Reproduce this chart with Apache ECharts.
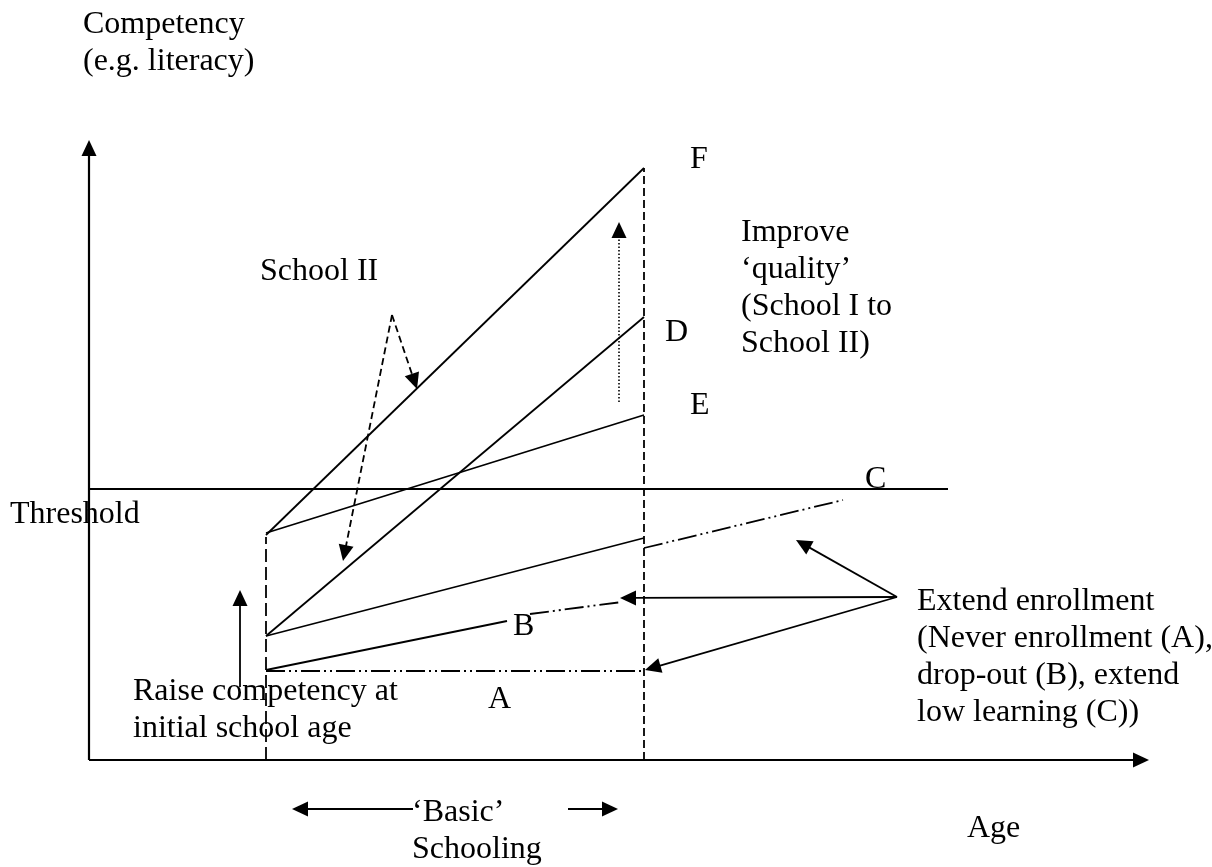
<!DOCTYPE html>
<html>
<head>
<meta charset="utf-8">
<script src="https://cdn.jsdelivr.net/npm/echarts@6/dist/echarts.min.js"></script>
<style>
  html, body { margin: 0; padding: 0; background: #ffffff; }
  #chart { width: 1212px; height: 867px; }
</style>
</head>
<body>
<div id="chart"></div>
<script>
// Diagram units: x = age, y = competency (arbitrary units)
// Each segment: [x1, y1, x2, y2]
const axisX = [[0, 0, 106, 0]];
const axisY = [[0, 0, 0, 62]];
const thresholdLine = [[0, 27.1, 85.9, 27.1]];
const pathF = [[17.7, 22.5, 55.5, 59.2]];      // School II
const pathE = [[17.7, 22.7, 55.5, 34.5]];
const pathD = [[17.7, 12.4, 55.5, 44.3]];
const pathC = [[17.7, 12.4, 55.5, 22.2]];
const pathB = [[17.7, 9.0, 41.8, 13.9]];
const extC = [[55.5, 21.2, 75.4, 26.0]];
const extB = [[44.1, 14.6, 53.3, 15.8]];
const pathA = [[17.7, 8.9, 55.5, 8.9]];
const schoolStart = [[17.7, 0, 17.7, 22.3]];
const schoolEnd = [[55.5, 0, 55.5, 59.2]];
const raiseArrow = [[15.1, 7.3, 15.1, 17.0]];
const qualityArrow = [[53.0, 35.8, 53.0, 53.8]];
const schoolIIArrows = [[30.3, 44.5, 32.8, 37.1], [30.3, 44.5, 25.4, 19.9]];
const extendArrows = [[80.8, 16.3, 70.7, 22.0], [80.8, 16.3, 53.1, 16.2], [80.8, 16.3, 55.6, 9.0]];
const basicArrows = [[32.4, -4.9, 20.3, -4.9], [47.9, -4.9, 52.9, -4.9]];

// Annotation texts: [text, x of left edge, y of first baseline]
const annotTexts = [
  'Competency\n(e.g. literacy)',
  'School II',
  'F',
  'Improve\n\u2018quality\u2019\n(School I to\nSchool II)',
  'D',
  'E',
  'C',
  'Threshold',
  'B',
  'A',
  'Raise competency at\ninitial school age',
  'Extend enrollment\n(Never enrollment (A),\ndrop-out (B), extend\nlow learning (C))',
  '\u2018Basic\u2019\nSchooling',
  'Age'
];
const annotX = [-0.6, 17.1, 60.1, 65.2, 57.6, 60.1, 77.6, -7.9, 42.4, 39.9, 4.4, 82.8, 32.3, 87.8];
const annotY = [72.5, 47.8, 59.0, 51.7, 41.7, 34.4, 27.0, 23.5, 12.3, 5.0, 5.8, 14.8, -6.3, -7.9];

function segSeries(data, opts) {
  return {
    type: 'custom',
    coordinateSystem: 'cartesian2d',
    silent: true,
    clip: false,
    data: data,
    encode: { x: [0, 2], y: [1, 3] },
    renderItem: function (params, api) {
      const p1 = api.coord([api.value(0), api.value(1)]);
      const p2 = api.coord([api.value(2), api.value(3)]);
      const children = [];
      let end = p2;
      if (opts.arrow) {
        const dx = p2[0] - p1[0], dy = p2[1] - p1[1];
        const len = Math.sqrt(dx * dx + dy * dy);
        const ux = dx / len, uy = dy / len;
        const L = 16, W = 15;
        const bx = p2[0] - ux * L, by = p2[1] - uy * L;
        end = [p2[0] - ux * (L - 3), p2[1] - uy * (L - 3)];
        children.push({
          type: 'polygon',
          shape: { points: [[p2[0], p2[1]], [bx - uy * W / 2, by + ux * W / 2], [bx + uy * W / 2, by - ux * W / 2]] },
          style: { fill: '#000', stroke: null }
        });
      }
      children.unshift({
        type: 'line',
        shape: { x1: p1[0], y1: p1[1], x2: end[0], y2: end[1] },
        style: { stroke: '#000', lineWidth: opts.width || 1.8, lineDash: opts.dash || null, fill: null }
      });
      return { type: 'group', children: children };
    }
  };
}

const annotData = annotX.map(function (x, i) { return [x, annotY[i]]; });

const textSeries = {
  type: 'custom',
  coordinateSystem: 'cartesian2d',
  silent: true,
  clip: false,
  data: annotData,
  renderItem: function (params, api) {
    const p = api.coord([api.value(0), api.value(1)]);
    return {
      type: 'text',
      x: p[0],
      y: p[1] - 29.3,
      style: {
        text: annotTexts[params.dataIndex],
        font: '32px "Liberation Serif", "Times New Roman", serif',
        fill: '#000',
        lineHeight: 37,
        align: 'left',
        verticalAlign: 'top'
      }
    };
  }
};

const dashDotDot = [19, 4, 2, 4, 2, 4];

const chart = echarts.init(document.getElementById('chart'), null, { renderer: 'canvas' });
chart.setOption({
  animation: false,
  backgroundColor: '#ffffff',
  grid: { left: 89, top: 140, width: 1060, height: 620 },
  xAxis: { type: 'value', min: 0, max: 106, show: false },
  yAxis: { type: 'value', min: 0, max: 62, show: false },
  series: [
    segSeries(axisX, { arrow: true, width: 2.2 }),
    segSeries(axisY, { arrow: true, width: 2.2 }),
    segSeries(thresholdLine, { width: 1.9 }),
    segSeries(pathF, {}),
    segSeries(pathE, {}),
    segSeries(pathD, {}),
    segSeries(pathC, {}),
    segSeries(pathB, {}),
    segSeries(extC, { dash: dashDotDot }),
    segSeries(extB, { dash: dashDotDot }),
    segSeries(pathA, { dash: dashDotDot }),
    segSeries(schoolStart, { dash: [13, 5] }),
    segSeries(schoolEnd, { dash: [8, 4] }),
    segSeries(raiseArrow, { arrow: true }),
    segSeries(qualityArrow, { arrow: true, dash: [1.5, 2], width: 1.6 }),
    segSeries(schoolIIArrows, { arrow: true, dash: [7, 4] }),
    segSeries(extendArrows, { arrow: true }),
    segSeries(basicArrows, { arrow: true, width: 2.2 }),
    textSeries
  ]
});
</script>
</body>
</html>
